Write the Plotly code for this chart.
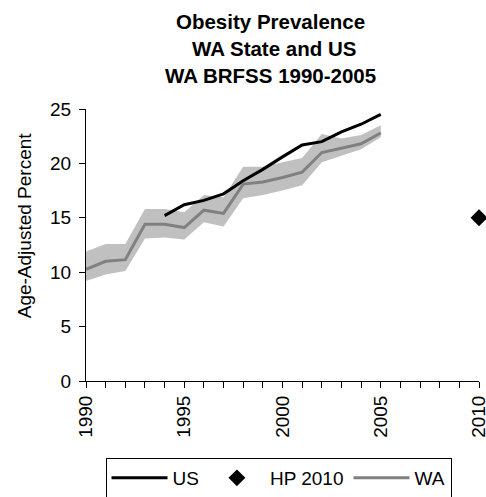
import plotly.graph_objects as go

years_wa = list(range(1990, 2006))
wa = [10.25, 11.0, 11.15, 14.4, 14.4, 14.1, 15.7, 15.4, 18.1, 18.3, 18.7, 19.2, 21.0, 21.4, 21.8, 22.8]
wa_upper = [11.9, 12.6, 12.6, 15.8, 15.8, 15.5, 17.1, 16.9, 19.7, 19.7, 20.1, 20.5, 22.7, 22.3, 22.6, 23.5]
wa_lower = [9.2, 9.8, 10.1, 13.1, 13.2, 13.0, 14.6, 14.2, 16.8, 17.1, 17.5, 18.0, 20.1, 20.7, 21.3, 22.4]

years_us = list(range(1994, 2006))
us = [15.2, 16.2, 16.6, 17.2, 18.4, 19.45, 20.6, 21.7, 22.0, 22.9, 23.6, 24.5]

hp_year = [2010]
hp_value = [15]

title_lines = ["Obesity Prevalence", "WA State and US", "WA BRFSS 1990-2005"]
y_title = "Age-Adjusted Percent"

FONT = "Liberation Sans, Arial, sans-serif"
W, H = 486, 497
ML, MR, MT, MB = 86, 7, 108.5, 116
PW, PH = W - ML - MR, H - MT - MB

fig = go.Figure()
fig.add_trace(go.Scatter(x=years_wa, y=wa_lower, mode="lines", line=dict(width=0),
                         showlegend=False, hoverinfo="skip"))
fig.add_trace(go.Scatter(x=years_wa, y=wa_upper, mode="lines", line=dict(width=0),
                         fill="tonexty", fillcolor="#C0C0C0", showlegend=False, hoverinfo="skip"))
fig.add_trace(go.Scatter(x=years_us, y=us, mode="lines", name="US",
                         line=dict(color="black", width=3)))
fig.add_trace(go.Scatter(x=hp_year, y=hp_value, mode="markers", name="HP 2010",
                         marker=dict(symbol="diamond", color="black", size=13), cliponaxis=False))
fig.add_trace(go.Scatter(x=years_wa, y=wa, mode="lines", name="WA",
                         line=dict(color="#808080", width=3)))

# title lines (pixel centres from the reference)
centres = [(270.5, 21), (274, 48), (270.5, 75)]
for txt, (cx, cy) in zip(title_lines, centres):
    fig.add_annotation(text="<b>" + txt + "</b>", xref="paper", yref="paper",
                       x=(cx - ML) / PW, y=(H - MB - cy) / PH,
                       xanchor="center", yanchor="middle", showarrow=False,
                       font=dict(family=FONT, size=20.5, color="black"))

# y-axis title
fig.add_annotation(text=y_title, xref="paper", yref="paper",
                   x=(24 - ML) / PW, y=(H - MB - 225) / PH, textangle=-90,
                   xanchor="center", yanchor="middle", showarrow=False,
                   font=dict(family=FONT, size=19, color="black"))

fig.update_layout(
    width=W, height=H,
    margin=dict(l=ML, r=MR, t=MT, b=MB, autoexpand=False),
    paper_bgcolor="white", plot_bgcolor="white",
    font=dict(family=FONT, size=19, color="black"),
    showlegend=True,
    legend=dict(orientation="h", x=(278.5 - ML) / PW, xanchor="center",
                yref="container", y=1 - 478 / H, yanchor="middle",
                bordercolor="black", borderwidth=1, bgcolor="white",
                font=dict(family=FONT, size=19), itemwidth=56, traceorder="normal"),
)
fig.update_xaxes(range=[1990, 2010], dtick=5, tick0=1990, tickangle=-90, automargin=False,
                 showgrid=False, zeroline=False, showline=True, linecolor="black", linewidth=1,
                 ticks="outside", ticklen=6, tickcolor="black", ticklabeloverflow="allow",
                 minor=dict(dtick=1, ticks="outside", ticklen=6, tickcolor="black"),
                 tickfont=dict(family=FONT, size=19))
fig.update_yaxes(range=[0, 25], dtick=5, showgrid=False, zeroline=False, automargin=False,
                 showline=True, linecolor="black", linewidth=1,
                 ticks="outside", ticklen=6, tickcolor="black",
                 tickfont=dict(family=FONT, size=19), ticklabelstandoff=4)

fig.write_html("out.html", config={"displayModeBar": False},
               post_script="document.body.style.margin='0';")
